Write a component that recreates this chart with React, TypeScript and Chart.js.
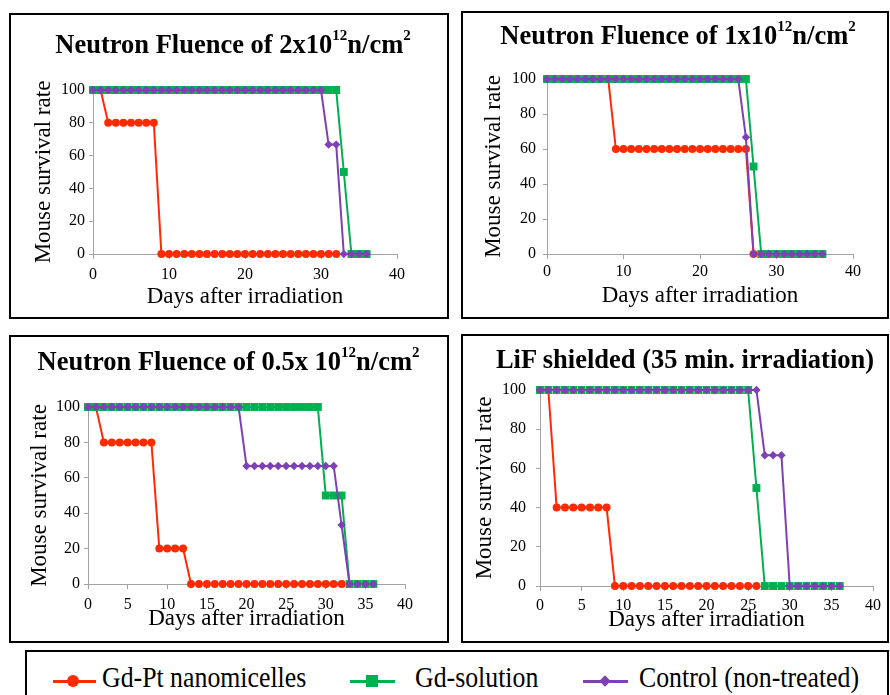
import React, { useEffect, useRef } from 'react';
import { Chart, registerables } from 'chart.js';

Chart.register(...registerables);

const SERIF = "'Liberation Serif', 'Times New Roman', serif";

// Days after irradiation (x values)
const DAYS = [0, 1, 2, 3, 4, 5, 6, 7, 8, 9, 10, 11, 12, 13, 14, 15, 16, 17, 18, 19, 20, 21, 22, 23, 24, 25, 26, 27, 28, 29, 30, 31, 32, 33, 34, 35, 36];

const SERIES_NAMES = ['Gd-Pt nanomicelles', 'Gd-solution', 'Control (non-treated)'];
const SERIES_COLORS = ['#FF2A00', '#00B050', '#7F40B5'];

const Y_TICKS = [0, 20, 40, 60, 80, 100];
const X_MAX = 40;

// Panel A: Neutron Fluence of 2x10^12 n/cm^2
const A_GDPT = [100, 100, 80, 80, 80, 80, 80, 80, 80, 0, 0, 0, 0, 0, 0, 0, 0, 0, 0, 0, 0, 0, 0, 0, 0, 0, 0, 0, 0, 0, 0, 0, 0];
const A_GDSOL = [100, 100, 100, 100, 100, 100, 100, 100, 100, 100, 100, 100, 100, 100, 100, 100, 100, 100, 100, 100, 100, 100, 100, 100, 100, 100, 100, 100, 100, 100, 100, 100, 100, 50, 0, 0, 0];
const A_CTRL = [100, 100, 100, 100, 100, 100, 100, 100, 100, 100, 100, 100, 100, 100, 100, 100, 100, 100, 100, 100, 100, 100, 100, 100, 100, 100, 100, 100, 100, 100, 100, 66.7, 66.7, 0, 0, 0, 0];

// Panel B: Neutron Fluence of 1x10^12 n/cm^2
const B_GDPT = [100, 100, 100, 100, 100, 100, 100, 100, 100, 60, 60, 60, 60, 60, 60, 60, 60, 60, 60, 60, 60, 60, 60, 60, 60, 60, 60, 0];
const B_GDSOL = [100, 100, 100, 100, 100, 100, 100, 100, 100, 100, 100, 100, 100, 100, 100, 100, 100, 100, 100, 100, 100, 100, 100, 100, 100, 100, 100, 50, 0, 0, 0, 0, 0, 0, 0, 0, 0];
const B_CTRL = [100, 100, 100, 100, 100, 100, 100, 100, 100, 100, 100, 100, 100, 100, 100, 100, 100, 100, 100, 100, 100, 100, 100, 100, 100, 100, 66.7, 0, 0, 0, 0, 0, 0, 0, 0, 0, 0];

// Panel C: Neutron Fluence of 0.5x 10^12 n/cm^2
const C_GDPT = [100, 100, 80, 80, 80, 80, 80, 80, 80, 20, 20, 20, 20, 0, 0, 0, 0, 0, 0, 0, 0, 0, 0, 0, 0, 0, 0, 0, 0, 0, 0, 0, 0];
const C_GDSOL = [100, 100, 100, 100, 100, 100, 100, 100, 100, 100, 100, 100, 100, 100, 100, 100, 100, 100, 100, 100, 100, 100, 100, 100, 100, 100, 100, 100, 100, 100, 50, 50, 50, 0, 0, 0, 0];
const C_CTRL = [100, 100, 100, 100, 100, 100, 100, 100, 100, 100, 100, 100, 100, 100, 100, 100, 100, 100, 100, 100, 66.7, 66.7, 66.7, 66.7, 66.7, 66.7, 66.7, 66.7, 66.7, 66.7, 66.7, 66.7, 33.3, 0, 0, 0, 0];

// Panel D: LiF shielded (35 min. irradiation)
const D_GDPT = [100, 100, 40, 40, 40, 40, 40, 40, 40, 0, 0, 0, 0, 0, 0, 0, 0, 0, 0, 0, 0, 0, 0, 0, 0, 0, 0];
const D_GDSOL = [100, 100, 100, 100, 100, 100, 100, 100, 100, 100, 100, 100, 100, 100, 100, 100, 100, 100, 100, 100, 100, 100, 100, 100, 100, 100, 50, 0, 0, 0, 0, 0, 0, 0, 0, 0, 0];
const D_CTRL = [100, 100, 100, 100, 100, 100, 100, 100, 100, 100, 100, 100, 100, 100, 100, 100, 100, 100, 100, 100, 100, 100, 100, 100, 100, 100, 100, 66.7, 66.7, 66.7, 0, 0, 0, 0, 0, 0, 0];

const AXIS = '#A3A3A3';

type Cfg = {
  L: number; T: number; W: number; H: number;
  padRight: number; padTop: number;
  yW: number; xH: number; xStep: number;
  xTickPad: number; yTickPad: number; yTitlePT: number; xTitlePB: number;
  titleCx: number; titleBase: number;
  title: React.ReactNode;
  series: number[][];
};

const sup = (t: string) => (
  <span style={{ fontSize: 15, position: 'relative', top: -13, lineHeight: 0 }}>{t}</span>
);

const PANELS: Cfg[] = [
  {
    L: 9, T: 13, W: 440, H: 306, padRight: 52, padTop: 77, yW: 84, xH: 65, xStep: 10,
    xTickPad: 6, yTickPad: 4, yTitlePT: 21, xTitlePB: 8, titleCx: 233, titleBase: 53,
    title: <>Neutron Fluence of 2x10{sup('12')}n/cm{sup('2')}</>,
    series: [A_GDPT, A_GDSOL, A_CTRL],
  },
  {
    L: 461, T: 11, W: 428, H: 308, padRight: 36, padTop: 68, yW: 86, xH: 65, xStep: 10,
    xTickPad: 3, yTickPad: 7, yTitlePT: 19, xTitlePB: 9, titleCx: 678, titleBase: 44,
    title: <>Neutron Fluence of 1x10{sup('12')}n/cm{sup('2')}</>,
    series: [B_GDPT, B_GDSOL, B_CTRL],
  },
  {
    L: 9, T: 335, W: 440, H: 308, padRight: 44, padTop: 72, yW: 79, xH: 59, xStep: 5,
    xTickPad: 6, yTickPad: 4, yTitlePT: 17, xTitlePB: 10, titleCx: 228.5, titleBase: 370,
    title: <>Neutron Fluence of 0.5x 10{sup('12')}n/cm{sup('2')}</>,
    series: [C_GDPT, C_GDSOL, C_CTRL],
  },
  {
    L: 461, T: 334, W: 428, H: 309, padRight: 16, padTop: 56, yW: 79, xH: 57, xStep: 5,
    xTickPad: 5, yTickPad: 10, yTitlePT: 10, xTitlePB: 9, titleCx: 685, titleBase: 368,
    title: <>LiF shielded (35 min. irradiation)</>,
    series: [D_GDPT, D_GDSOL, D_CTRL],
  },
];

const POINT_STYLES = ['circle', 'rect', 'rectRot'];
const POINT_RADII = [4, 5.6, 4.2];
const ORDERS = [2, 1, 0];

function Panel({ cfg }: { cfg: Cfg }) {
  const ref = useRef<HTMLCanvasElement>(null);
  useEffect(() => {
    const tickFont = { family: SERIF, size: 16, lineHeight: 1.2 };
    const titleFont = { family: SERIF, size: 23, lineHeight: 1.2 };
    const chart = new Chart(ref.current as HTMLCanvasElement, {
      type: 'line',
      data: {
        datasets: cfg.series.map((vals, i) => ({
          label: SERIES_NAMES[i],
          data: vals.map((v, j) => ({ x: DAYS[j], y: v })),
          borderColor: SERIES_COLORS[i],
          backgroundColor: SERIES_COLORS[i],
          pointBackgroundColor: SERIES_COLORS[i],
          pointBorderColor: SERIES_COLORS[i],
          pointBorderWidth: 0,
          pointStyle: POINT_STYLES[i] as any,
          pointRadius: POINT_RADII[i],
          borderWidth: 2,
          tension: 0,
          clip: false as any,
          order: ORDERS[i],
        })),
      },
      options: {
        animation: false,
        responsive: false,
        events: [],
        layout: { padding: { left: 0, right: cfg.padRight, top: cfg.padTop, bottom: 0 } },
        plugins: { legend: { display: false }, tooltip: { enabled: false }, title: { display: false } },
        scales: {
          x: {
            type: 'linear',
            min: 0,
            max: X_MAX,
            ticks: { stepSize: cfg.xStep, font: tickFont, color: '#000', padding: cfg.xTickPad, maxRotation: 0, autoSkip: false },
            grid: { drawOnChartArea: false, drawTicks: true, tickLength: 5, color: AXIS },
            border: { display: true, color: AXIS, width: 1 },
            title: { display: true, text: 'Days after irradiation', font: titleFont, color: '#000', padding: { top: 0, bottom: cfg.xTitlePB } },
            afterFit: (s: any) => { s.height = cfg.xH; },
          },
          y: {
            type: 'linear',
            min: 0,
            max: 100,
            afterBuildTicks: (s: any) => { s.ticks = Y_TICKS.map((v) => ({ value: v })); },
            ticks: { font: tickFont, color: '#000', padding: cfg.yTickPad },
            grid: { drawOnChartArea: false, drawTicks: true, tickLength: 4, color: AXIS },
            border: { display: true, color: AXIS, width: 1 },
            title: { display: true, text: 'Mouse survival rate', font: titleFont, color: '#000', padding: { top: cfg.yTitlePT, bottom: 0 } },
            afterFit: (s: any) => { s.width = cfg.yW; },
          },
        },
      } as any,
    });
    return () => chart.destroy();
  }, []);
  return (
    <>
      <canvas
        ref={ref}
        width={cfg.W}
        height={cfg.H}
        style={{ position: 'absolute', left: cfg.L, top: cfg.T, width: cfg.W, height: cfg.H }}
      />
      <div
        style={{
          position: 'absolute', left: cfg.L, top: cfg.T, width: cfg.W, height: cfg.H,
          border: '2px solid #000', boxSizing: 'border-box', pointerEvents: 'none',
        }}
      />
      <div
        style={{
          position: 'absolute', left: cfg.titleCx - 300, width: 600, top: cfg.titleBase - 22.2,
          textAlign: 'center', fontFamily: SERIF, fontWeight: 'bold', fontSize: 26.5, lineHeight: '26.5px',
          whiteSpace: 'nowrap', color: '#000',
        }}
      >
        {cfg.title}
      </div>
    </>
  );
}

function LegendItem({ x, lineW, markerX, idx, textX }: { x: number; lineW: number; markerX: number; idx: number; textX: number }) {
  const color = SERIES_COLORS[idx];
  const cy = 681;
  let marker: React.ReactNode = null;
  if (idx === 0) {
    marker = <div style={{ position: 'absolute', left: markerX - 6, top: cy - 6, width: 12, height: 12, borderRadius: '50%', background: color }} />;
  } else if (idx === 1) {
    marker = <div style={{ position: 'absolute', left: markerX - 6, top: cy - 6, width: 12, height: 12, background: color }} />;
  } else {
    marker = <div style={{ position: 'absolute', left: markerX - 4, top: cy - 4, width: 8, height: 8, background: color, transform: 'rotate(45deg)' }} />;
  }
  return (
    <>
      <div style={{ position: 'absolute', left: x, top: cy - 1.5, width: lineW, height: 3, background: color }} />
      {marker}
      <div
        style={{
          position: 'absolute', left: textX, top: 687 - 24.3, fontFamily: SERIF, fontSize: 29, lineHeight: '29px',
          whiteSpace: 'nowrap', color: '#000', transform: 'scaleX(0.89)', transformOrigin: 'left center',
        }}
      >
        {SERIES_NAMES[idx]}
      </div>
    </>
  );
}

export default function App() {
  return (
    <div style={{ position: 'absolute', left: 0, top: 0, width: 890, height: 695, overflow: 'hidden', background: '#fff' }}>
      {PANELS.map((p, i) => (
        <Panel key={i} cfg={p} />
      ))}
      <div
        style={{
          position: 'absolute', left: 25, top: 650, width: 864, height: 60,
          border: '2px solid #000', boxSizing: 'border-box',
        }}
      />
      <LegendItem x={53} lineW={43} markerX={73} idx={0} textX={102} />
      <LegendItem x={350} lineW={45} markerX={372} idx={1} textX={415} />
      <LegendItem x={583} lineW={45} markerX={605} idx={2} textX={639} />
    </div>
  );
}
